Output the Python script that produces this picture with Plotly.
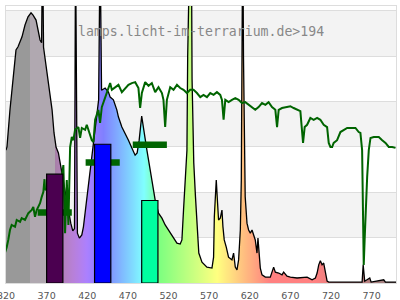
import plotly.graph_objects as go

# ---------------- data ----------------
lamp_nm = [320, 321.2, 324.9, 328.6, 332.3, 334.8, 339.7, 343.4, 347.1, 350.8, 353.3, 357.0, 359.4, 361.9,
           363.8, 365.0, 366.2, 368.1, 371.8, 376.7, 379.1, 381.6, 384.5, 388.6, 392.7, 396.8, 399.7, 402.2,
           404.3, 405.6, 407.2, 407.9, 410.3, 413.3, 415.3, 419.4, 423.5, 427.6, 431.8, 434.0, 435.8, 437.6,
           442.0, 446.1, 448.2, 452.2, 456.4, 458.4, 462.6, 466.6, 470.7, 474.9, 478.9, 481.4, 483.9, 487.0,
           489.2, 493.4, 497.5, 501.5, 503.6, 507.7, 511.9, 515.9, 522.1, 526.2, 530.4, 534.4, 536.5, 538.5,
           540.6, 542.7, 543.6, 544.5, 547.8, 549.0, 550.0, 551.1, 553.2, 555.3, 557.3, 561.2, 567.3, 573.5,
           575.5, 576.4, 577.5, 578.8, 580.4, 581.6, 583.7, 585.8, 587.0, 588.6, 591.1, 593.9, 598.1, 600.1,
           602.2, 604.3, 606.3, 608.4, 609.6, 610.5, 611.4, 612.3, 613.3, 614.4, 616.6, 618.6, 620.7, 622.8,
           626.8, 628.9, 630.1, 632.1, 633.0, 635.1, 639.2, 645.3, 649.4, 651.5, 655.6, 659.7, 661.7, 665.9,
           670.0, 678.2, 686.4, 690.6, 696.7, 700.8, 702.9, 704.9, 706.9, 709.0, 711.0, 713.1, 715.2, 717.2,
           758.3, 759.6, 761.5, 767.7, 769.4, 784.9, 787.0, 800.0]
lamp_val = [2.93, 3.00, 3.82, 4.54, 5.14, 5.21, 5.43, 5.69, 5.87, 5.96, 5.91, 5.80, 5.54, 5.36,
            5.30, 7.50, 5.20, 4.96, 4.43, 3.82, 3.31, 3.00, 2.87, 2.43, 1.99, 1.61, 1.32, 1.15,
            1.20, 7.50, 1.30, 1.10, 0.99, 1.06, 1.24, 1.83, 2.49, 3.09, 3.66, 4.04, 7.50, 4.25,
            4.30, 4.21, 4.10, 4.04, 3.82, 3.66, 3.44, 3.31, 3.15, 2.98, 2.82, 2.87, 3.15, 3.68,
            3.38, 2.93, 2.49, 2.05, 1.83, 1.54, 1.43, 1.28, 1.10, 0.99, 0.88, 0.86, 0.95, 1.61,
            2.27, 2.93, 5.00, 9.00, 9.00, 4.50, 3.37, 2.65, 1.90, 1.17, 0.66, 0.46, 0.35, 0.33,
            0.57, 1.46, 2.05, 2.27, 1.76, 1.39, 1.43, 1.61, 1.24, 0.95, 0.79, 0.57, 0.51, 0.66,
            0.35, 0.29, 0.51, 1.17, 2.27, 5.00, 8.00, 5.00, 2.60, 1.90, 1.32, 1.17, 1.10, 1.17,
            0.95, 0.66, 0.99, 0.55, 0.33, 0.18, 0.13, 0.13, 0.35, 0.24, 0.22, 0.18, 0.24, 0.15,
            0.13, 0.11, 0.13, 0.13, 0.07, 0.11, 0.22, 0.40, 0.49, 0.40, 0.44, 0.24, 0.04, 0.02,
            0.02, 0.40, 0.04, 0.11, 0.02, 0.07, 0.02, 0.02]

sun_nm = [314.7, 318.8, 320.9, 322.8, 324.9, 327.0, 331.1, 333.2, 337.3, 339.3, 343.4, 347.5, 351.7, 353.6,
          355.7, 357.8, 361.9, 364.0, 366.0, 367.4, 368.1, 372.0, 377.0, 382.0, 386.0, 390.6, 392.7, 394.8,
          396.8, 398.9, 401.0, 402.9, 405.0, 409.1, 411.2, 413.3, 417.4, 419.4, 422.7, 425.6, 427.6, 429.7,
          433.7, 435.8, 437.9, 442.0, 444.1, 448.2, 450.3, 454.3, 458.4, 462.6, 466.6, 470.7, 474.9, 479.0,
          483.0, 485.1, 487.2, 491.3, 495.4, 499.5, 503.6, 507.7, 511.9, 513.8, 515.9, 518.0, 522.1, 526.2,
          530.4, 534.4, 538.5, 542.7, 546.7, 550.8, 555.0, 559.1, 563.1, 567.3, 571.4, 575.5, 579.6, 583.7,
          585.8, 587.8, 589.9, 594.0, 598.1, 602.2, 606.3, 610.4, 614.5, 618.6, 622.8, 626.8, 630.9, 635.1,
          639.2, 643.2, 647.4, 651.5, 653.6, 655.6, 659.7, 663.8, 670.0, 674.0, 680.2, 682.3, 685.6, 687.6,
          690.6, 694.6, 698.7, 702.9, 706.9, 711.0, 715.2, 717.2, 719.3, 721.4, 723.3, 727.5, 731.6, 735.7,
          739.9, 746.0, 750.1, 754.1, 756.2, 758.3, 759.3, 760.3, 761.4, 762.4, 764.5, 766.5, 768.6, 772.6,
          778.8, 783.0, 787.1, 791.1, 795.3, 799.4]
sun_val = [0.44, 0.66, 0.79, 0.95, 1.17, 1.28, 1.24, 1.39, 1.35, 1.43, 1.39, 1.54, 1.61, 1.68,
           1.46, 1.61, 1.76, 1.90, 2.01, 2.29, 2.05, 2.10, 2.20, 2.05, 1.95, 2.60, 1.10, 2.27,
           1.28, 3.00, 3.22, 3.15, 3.38, 3.44, 3.20, 3.42, 3.38, 3.49, 3.33, 3.15, 3.11, 3.60,
           3.82, 3.53, 3.88, 4.10, 4.21, 4.41, 4.26, 4.32, 4.37, 4.21, 4.30, 4.37, 4.41, 4.43,
           4.30, 3.86, 4.19, 4.43, 4.35, 4.41, 4.21, 4.32, 4.19, 4.04, 3.44, 4.04, 4.32, 4.26,
           4.37, 4.30, 4.26, 4.19, 4.26, 4.26, 4.19, 4.10, 4.15, 4.10, 4.19, 4.15, 4.21, 4.15,
           4.04, 3.60, 4.04, 3.99, 4.04, 4.08, 4.04, 3.97, 3.99, 3.93, 3.88, 3.82, 3.88, 3.97,
           3.93, 3.99, 3.88, 3.82, 3.44, 3.82, 3.86, 3.88, 3.90, 3.86, 3.82, 3.79, 3.09, 3.44,
           3.49, 3.64, 3.60, 3.64, 3.60, 3.49, 3.44, 3.09, 3.00, 3.00, 3.09, 3.15, 3.33, 3.38,
           3.42, 3.42, 3.42, 3.33, 3.31, 2.93, 1.17, 0.40, 0.95, 1.46, 2.34, 2.93, 3.20, 3.22,
           3.22, 3.15, 3.09, 3.00, 3.00, 2.98]

bar_nm = [380, 439, 497]
bar_val = [2.40, 3.06, 1.82]
bar_colors = ["#4b0050", "#0000ff", "#00ffa0"]
mark_val = [1.555, 2.66, 3.05]

x_ticks = [320, 370, 420, 470, 520, 570, 620, 670, 720, 770]
title_text = "lamps.licht-im-terrarium.de>194"

# ---------------- style ----------------
X0, X1 = 320, 800
Y1 = 6.11
BAR_W = 20
MARK_HALF = 21
BANDS = [1, 3, 5]


def wl_color(l):
    if l < 350:
        return "rgb(153,153,153)"
    if l < 380:
        return "rgb(176,168,176)"
    if l < 440:
        r, g, b = -(l - 440) / 60.0, 0.0, 1.0
    elif l < 490:
        r, g, b = 0.0, (l - 440) / 50.0, 1.0
    elif l < 510:
        r, g, b = 0.0, 1.0, -(l - 510) / 20.0
    elif l < 580:
        r, g, b = (l - 510) / 70.0, 1.0, 0.0
    elif l < 645:
        r, g, b = 1.0, -(l - 645) / 65.0, 0.0
    else:
        r, g, b = 1.0, 0.0, 0.0
    if l < 420:
        f = 0.3 + 0.7 * (l - 380) / 40.0
    elif l > 700:
        f = max(0.3, 0.3 + 0.7 * (780 - l) / 80.0)
    else:
        f = 1.0
    c = [int(round(127.5 + 127.5 * v * f)) for v in (r, g, b)]
    return "rgb(%d,%d,%d)" % tuple(c)


cs = []
for l in range(X0, X1 + 1, 2):
    p = (l - X0) / (X1 - X0)
    if l in (350, 380):
        cs.append([p, wl_color(l - 0.01)])
    cs.append([p, wl_color(l)])

fig = go.Figure()

fig.add_trace(go.Scatter(
    x=lamp_nm, y=lamp_val, mode="lines",
    line=dict(color="black", width=1.3),
    fill="tozeroy",
    fillgradient=dict(type="horizontal", colorscale=cs, start=X0, stop=X1),
    hoverinfo="skip"))

fig.add_trace(go.Scatter(
    x=sun_nm, y=sun_val, mode="lines",
    line=dict(color="#006400", width=2),
    hoverinfo="skip"))

mx, my = [], []
for c, v in zip(bar_nm, mark_val):
    mx += [c - MARK_HALF, c + MARK_HALF, None]
    my += [v, v, None]
fig.add_trace(go.Scatter(x=mx, y=my, mode="lines",
                         line=dict(color="#006400", width=6.5), hoverinfo="skip"))

fig.add_trace(go.Bar(
    x=bar_nm, y=bar_val, width=BAR_W,
    marker=dict(color=bar_colors, line=dict(color="black", width=1.2)),
    xaxis="x2", yaxis="y2", hoverinfo="skip"))

shapes = [dict(type="rect", xref="paper", x0=0, x1=1, yref="y", y0=b, y1=b + 1,
               fillcolor="#f3f3f3", line=dict(width=0), layer="below") for b in BANDS]

fig.update_layout(
    width=400, height=300,
    margin=dict(l=6, r=4, t=6, b=17),
    paper_bgcolor="white", plot_bgcolor="white",
    showlegend=False,
    shapes=shapes,
    xaxis=dict(range=[X0, X1], tickvals=x_ticks, showgrid=False, zeroline=False,
               showline=True, linecolor="#dddddd", linewidth=1, mirror=True,
               ticks="", ticklabelstandoff=4, ticklabeloverflow="allow",
               tickfont=dict(family="DejaVu Sans", size=9.5, color="#555555"),
               automargin=False, fixedrange=True),
    yaxis=dict(range=[0, Y1], dtick=1, tick0=0, showgrid=True, gridcolor="#dddddd",
               showticklabels=False, zeroline=False, showline=True, linecolor="#dddddd",
               linewidth=1, mirror=True, automargin=False, fixedrange=True),
    xaxis2=dict(range=[X0, X1], overlaying="x", anchor="y2", visible=False),
    yaxis2=dict(range=[0, Y1], overlaying="y", anchor="x2", visible=False),
    annotations=[dict(text=title_text, xref="paper", yref="paper", x=0.5, y=0.908,
                      xanchor="center", yanchor="middle", showarrow=False,
                      font=dict(family="DejaVu Sans Mono", size=13.2, color="#888888"))],
)

fig.write_html("out.html")
